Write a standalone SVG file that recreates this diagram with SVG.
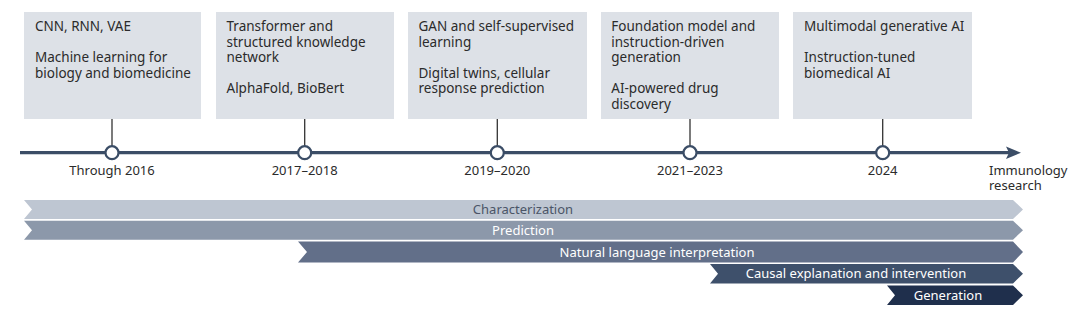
<svg xmlns="http://www.w3.org/2000/svg" width="1080" height="318" viewBox="0 0 1080 318">
<style>
.box{fill:#dde1e7}
.bt{font-family:"Noto Sans","Liberation Sans",sans-serif;font-size:13.5px;fill:#2b2b2b}
.yr{font-family:"Noto Sans","Liberation Sans",sans-serif;font-size:13px;fill:#2b2b2b;text-anchor:middle}
.stem{stroke:#333;stroke-width:1.3}
.dot{fill:#fff;stroke:#3b4d66;stroke-width:2.2}
.bar{font-family:"Noto Sans","Liberation Sans",sans-serif;font-size:13px;text-anchor:middle;fill:#fff}
</style>
<rect width="1080" height="318" fill="#fff"/>
<g id="connectors">
<line x1="20" y1="152.7" x2="1010" y2="152.7" stroke="#3b4d66" stroke-width="3.2"/>
<path d="M1006,146.5 L1021,152.7 L1006,158.9 L1009,152.7 Z" fill="#3b4d66"/>
<line class="stem" x1="112" y1="119" x2="112" y2="146"/>
<line class="stem" x1="304.7" y1="119" x2="304.7" y2="146"/>
<line class="stem" x1="497.3" y1="119" x2="497.3" y2="146"/>
<line class="stem" x1="690" y1="119" x2="690" y2="146"/>
<line class="stem" x1="882.7" y1="119" x2="882.7" y2="146"/>
</g>
<g id="node-2016">
<rect class="box" x="24" y="12" width="177" height="107"/>
<text class="bt" x="35" y="31">CNN, RNN, VAE</text>
<text class="bt" x="35" y="62">Machine learning for</text>
<text class="bt" x="35" y="77.5">biology and biomedicine</text>
<circle class="dot" cx="112" cy="152.7" r="6.5"/>
<text class="yr" x="112" y="174.5">Through 2016</text>
</g>
<g id="node-2017">
<rect class="box" x="216" y="12" width="178" height="107"/>
<text class="bt" x="226.5" y="31">Transformer and</text>
<text class="bt" x="226.5" y="46.5">structured knowledge</text>
<text class="bt" x="226.5" y="62">network</text>
<text class="bt" x="226.5" y="93">AlphaFold, BioBert</text>
<circle class="dot" cx="304.7" cy="152.7" r="6.5"/>
<text class="yr" x="304.7" y="174.5">2017–2018</text>
</g>
<g id="node-2019">
<rect class="box" x="408" y="12" width="179" height="107"/>
<text class="bt" x="418.5" y="31">GAN and self-supervised</text>
<text class="bt" x="418.5" y="46.5">learning</text>
<text class="bt" x="418.5" y="77.5">Digital twins, cellular</text>
<text class="bt" x="418.5" y="93">response prediction</text>
<circle class="dot" cx="497.3" cy="152.7" r="6.5"/>
<text class="yr" x="497.3" y="174.5">2019–2020</text>
</g>
<g id="node-2021">
<rect class="box" x="601" y="12" width="178" height="107"/>
<text class="bt" x="611.3" y="31">Foundation model and</text>
<text class="bt" x="611.3" y="46.5">instruction-driven</text>
<text class="bt" x="611.3" y="62">generation</text>
<text class="bt" x="611.3" y="93">AI-powered drug</text>
<text class="bt" x="611.3" y="108.5">discovery</text>
<circle class="dot" cx="690" cy="152.7" r="6.5"/>
<text class="yr" x="690" y="174.5">2021–2023</text>
</g>
<g id="node-2024">
<rect class="box" x="793" y="12" width="179" height="107"/>
<text class="bt" x="804" y="31">Multimodal generative AI</text>
<text class="bt" x="804" y="62">Instruction-tuned</text>
<text class="bt" x="804" y="77.5">biomedical AI</text>
<circle class="dot" cx="882.7" cy="152.7" r="6.5"/>
<text class="yr" x="882.7" y="174.5">2024</text>
</g>
<g id="node-end">
<text class="yr" x="989" y="175" text-anchor="start" style="text-anchor:start">Immunology</text>
<text class="yr" x="989" y="190" style="text-anchor:start">research</text>
</g>
<g id="bars">
<path d="M24,200 L1013,200 L1023,209.5 L1013,219 L24,219 L32,209.5 Z" fill="#bec6d2"/>
<text class="bar" x="523" y="214" style="fill:#4b5567">Characterization</text>
<path d="M24,220.7 L1013,220.7 L1023,230.2 L1013,239.7 L24,239.7 L32,230.2 Z" fill="#8c98aa"/>
<text class="bar" x="523" y="234.7">Prediction</text>
<path d="M298,241.5 L1013,241.5 L1023,252 L1013,262.5 L298,262.5 L307,252 Z" fill="#626f89"/>
<text class="bar" x="657" y="256.5">Natural language interpretation</text>
<path d="M710,264 L1013,264 L1023,273.7 L1013,283.4 L710,283.4 L718,273.7 Z" fill="#3e506b"/>
<text class="bar" x="856" y="278.2">Causal explanation and intervention</text>
<path d="M887,285.5 L1013,285.5 L1023,295.2 L1013,305 L887,305 L895,295.2 Z" fill="#1f2f4c"/>
<text class="bar" x="948" y="299.7">Generation</text>
</g>
</svg>
